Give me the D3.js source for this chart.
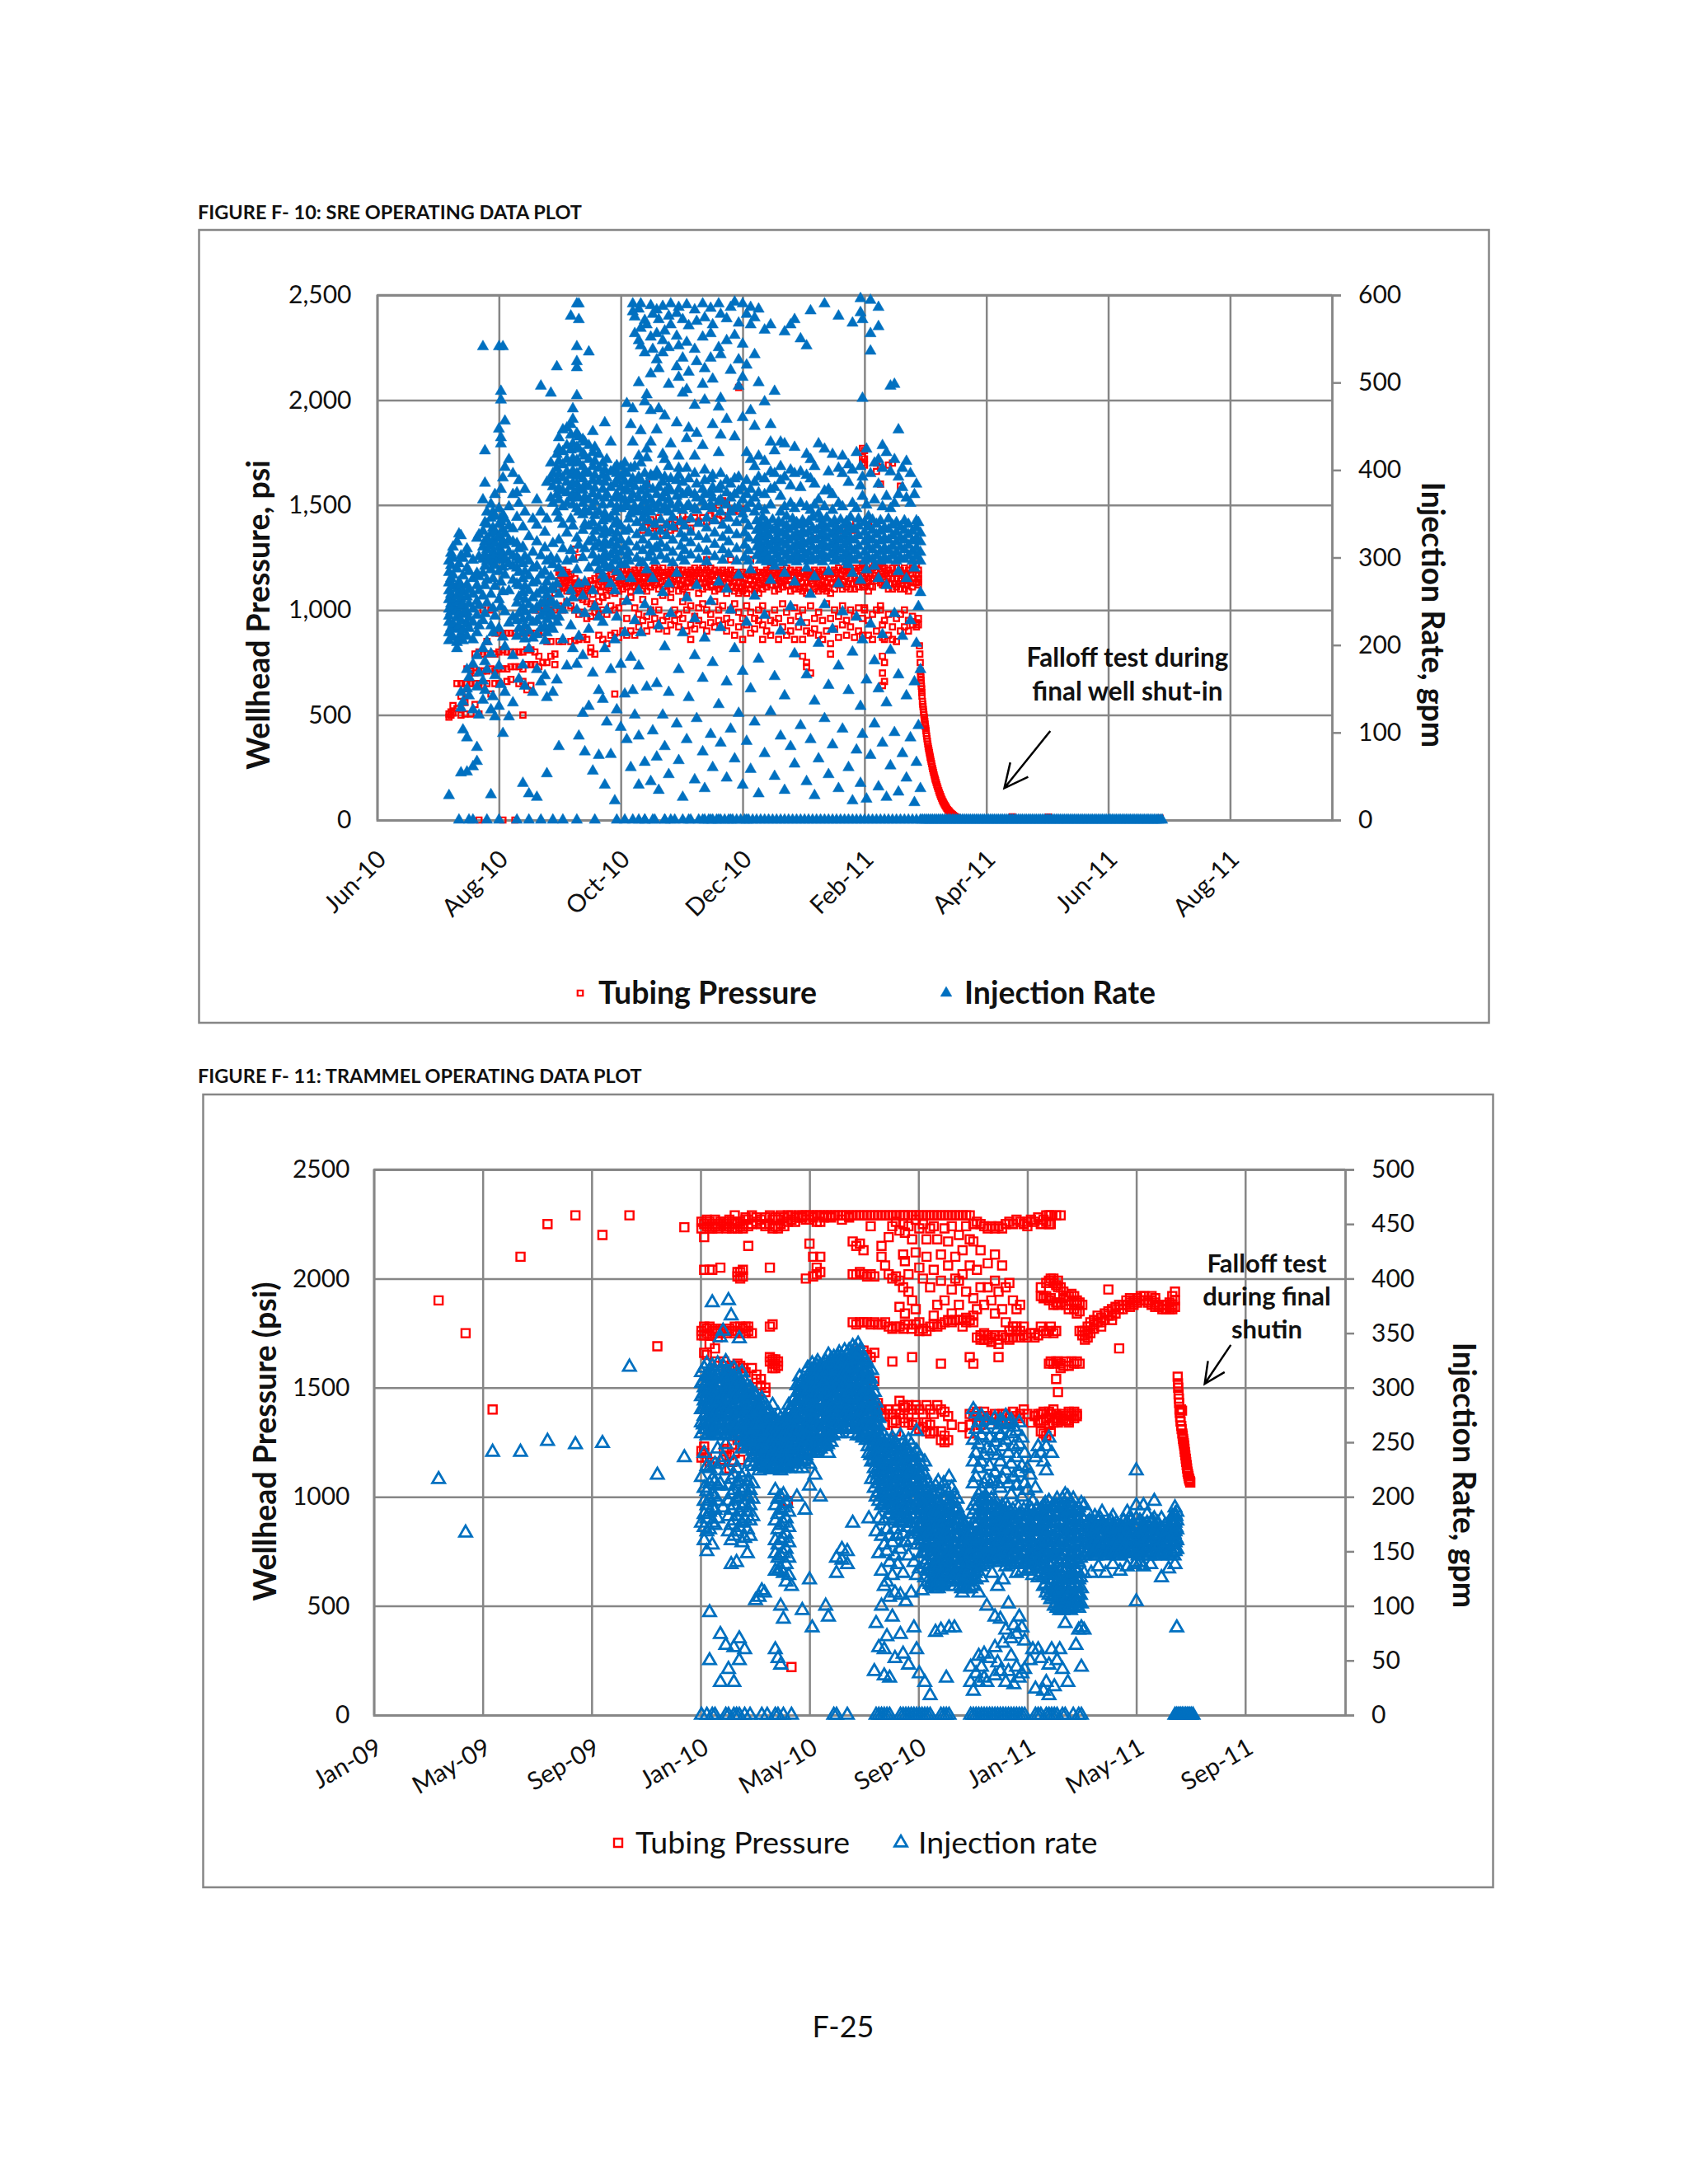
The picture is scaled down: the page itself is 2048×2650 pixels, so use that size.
<!DOCTYPE html>
<html><head><meta charset="utf-8">
<script src="https://cdn.jsdelivr.net/npm/d3@7"></script>
<style>body{margin:0;background:#fff}text{font-family:Lato,Carlito,sans-serif;fill:#111}</style>
</head><body><svg id="page" width="2048" height="2650"></svg>
<script>
// Rows are [day offset from first tick, readings...]
const sreTickLabels=["Jun-10","Aug-10","Oct-10","Dec-10","Feb-11","Apr-11","Jun-11","Aug-11"];
const sreTickDays=[0,61,122,183,244,305,366,427];
const srePsiTicks=[0,500,1000,1500,2000,2500];
const sreGpmTicks=[0,100,200,300,400,500,600];
const sreRate=[
[36,28,205,214,226,233,241,252,262,271,283,296],[37,219,238,247,258,276,291,305],[38,209,224,243,251,267,280,299,312],
[40,196,203,218,231,240,256,264,287,318],[41,0,208,222,236,249,259,272,293,327],[42,54,128,146,213,228,244,253,268,302,325],
[43,103,135,205,217,235,246,261,279,299],[45,94,55,150,172,210,224,238,255,269,288,304,310],[46,0,142,163,219,231,247,263,284],
[48,0,61,126,178,206,226,241,258,276,297],[50,83,67,152,188,214,234,250,268,282,322],[51,120,168,222,245,262,278,301,326],
[53,541,366,137,159,196,228,256,282,298,312,330],[54,422,385,148,181,236,268,290,303,318,340],[55,0,172,204,248,274,296,309,322,338,352],
[57,29,126,190,222,258,286,300,313,327,345,361],[58,141,214,242,276,294,306,319,334,352],[59,118,165,233,267,291,302,316,329,347,372],
[61,541,447,0,130,176,219,252,284,299,311,324,338,356],[62,490,480,437,430,155,244,272,297,308,322,341,378],[63,541,99,209,261,289,303,318,332,349,391],
[64,456,146,198,238,280,298,314,327,344,403],[66,412,118,225,262,293,306,320,336,358],[68,396,134,188,232,274,290,302,318,333,372],
[70,374,0,210,228,248,270,288,300,316,346],[71,161,219,236,255,268,283,297,310,362,388],[73,42,177,214,229,243,260,276,293,312,335],
[74,153,207,222,238,252,267,284,301,352,378],[76,0,30,196,216,231,246,262,279,296,324],[78,146,208,226,240,254,271,288,306,344],
[80,26,172,212,228,243,258,273,290,318,337,366],[82,496,0,158,219,233,247,262,280,302,352],[84,165,205,221,237,250,265,284,311,329],
[85,53,140,214,229,242,257,272,296,344,386],[87,488,222,236,250,263,278,300,368,390,408],[88,0,146,218,233,248,266,292,316,362,381,396],
[90,518,160,226,245,270,298,352,372,388,402,418],[91,84,232,258,288,320,345,366,379,395,410,424,437],[93,0,206,240,282,310,338,358,376,391,406,421,446],
[95,176,248,296,328,362,374,386,398,412,428,448],[97,576,222,262,308,344,368,381,394,408,423,440,452],[98,470,196,254,298,336,360,372,385,399,413,430,458],
[100,590,541,524,517,485,0,178,240,286,322,356,371,384,396,411,426,442],[101,590,572,96,210,270,314,352,368,379,393,408,424,438],
[103,122,188,256,300,331,349,362,377,390,404,419,435],[104,78,236,272,310,338,354,369,383,398,416,432],[106,535,130,218,288,318,336,352,366,381,396,412,428],
[108,56,168,262,303,322,340,358,373,388,404,420,444],[109,0,244,294,312,330,348,364,379,394,410,426],[111,74,148,232,286,298,316,334,352,370,387,402,418],
[113,138,226,280,296,310,326,342,360,378,394,408],[114,454,40,196,276,292,304,318,333,350,368,386,400],[115,112,240,288,300,314,328,344,372,391,412],
[117,432,75,172,270,290,303,316,330,346,361,380,398],[119,22,206,262,296,308,322,338,352,368,384,402],[120,0,126,232,284,300,314,328,342,358,372,388,396,405],
[122,106,178,278,292,306,320,336,356,368,380,392,404],[124,0,144,214,292,312,330,358,366,376,387,398,408],
[125,476,92,250,302,360,378,396],[127,452,60,186,276,350,366,384,402],[128,590,581,470,432,0,148,354,372,390],[129,575,556,120,228,358,381,404],
[131,584,548,500,40,96,176,262,352,368,392,416],[132,590,562,542,445,214,294,358,376,388,408],[134,571,534,478,0,66,246,350,364,380,396],[135,566,486,424,152,286,356,372,384,414],
[137,588,552,510,468,44,238,306,352,366,394,432],[138,578,538,0,102,276,360,378,392],[140,583,556,526,446,72,156,312,356,372,398],[141,572,516,470,34,222,362,380,394],
[143,587,548,534,418,120,260,354,368,386],[144,559,462,0,84,198,358,374,392,412],[146,576,540,498,52,146,270,352,366,380,404],[147,590,566,430,0,236,360,376,390],
[150,579,553,518,454,110,282,356,370,388],[151,586,542,506,402,68,172,362,378,394,416],[153,572,528,488,26,214,354,372,386],[155,589,546,492,436,92,254,358,374,402],
[156,565,512,448,0,140,360,376,390],[159,583,538,474,416,46,188,230,356,372,396],[160,570,524,442,116,268,354,368,384],[163,590,552,498,428,0,78,162,364,378],
[164,574,516,480,36,208,358,372,388,400],[167,585,556,528,0,98,250,360,374,390],[168,566,504,452,60,180,356,368,380,394],[171,590,540,472,420,0,132,272,364,378],
[172,578,532,482,440,88,220,352,366,382,396],[175,573,548,458,48,158,264,360,374,388],[177,586,514,0,104,240,352,368,384],[179,592,554,438,70,196,356,372,390],
[181,568,526,496,122,280,358,376,392],[183,590,544,506,460,40,170,350,366,380],[185,578,520,0,90,226,356,372,388,420],[187,586,566,468,58,150,286,362,378,412],
[189,574,532,450,112,256,352,368,386,404],[191,584,500,30,184,358,374,392,416],[194,560,478,76,234,354,372,390,410],[197,566,452,124,274,360,378,398,432],
[199,490,50,164,290,380,396,422],[202,432,96,216,352,370,388,404],[204,558,34,142,282,358,392,430],[207,566,84,244,362,382,400],[209,572,64,190,272,356,396,426],
[212,550,108,226,362,380,398],[215,542,44,166,288,358,394,418],[217,582,92,258,354,390,412],[219,28,136,278,360,384,404],[221,70,202,350,366,430],
[224,590,116,246,358,376,424],[226,52,154,284,378,398],[228,86,218,354,372,418],[231,576,36,176,270,362,402],[233,104,238,358,396,416],[236,60,148,292,386,406],
[238,568,22,192,282,362,400],[240,80,232,356,420],[242,596,580,42,130,274,382,404],[243,572,482,98,206,370,392],[245,24,160,286,360,424],[247,594,556,536,74,224,396],
[249,110,182,290,366,408],[251,586,564,38,150,276,384,412],[253,88,212,358,402,428],[255,26,134,268,370,420],[257,496,62,194,356,398],[259,498,100,236,362,412],
[261,32,166,284,372,392,446],[263,76,210,380,402],[265,48,142,276,368,410],[267,94,228,362,396],[269,20,158,288,372],[270,66,202,384],[271,108,244,340],[272,36,172,260]];
const sreRateBand=[
[126,296,306,318,332,344],[130,299,312,326,340],[133,294,308,320,334,345],[136,300,314,328,342],[139,296,310,324,338],[142,302,316,330,343],[145,298,311,325,337],[148,294,306,320,335,346],
[152,300,313,327,341],[154,296,308,322,336],[157,303,317,329,344],[161,298,310,324,339],[165,295,307,321,334,345],[169,301,315,328,342],[173,297,309,323,337],[176,304,318,331,345],
[180,296,310,326,340],[184,300,314,328,343],[186,296,308,322,336],[190,302,312,320,331,342],[192,297,307,316,327,338],[193,301,311,323,334,346],[195,295,305,318,329,340],[196,300,313,325,336],
[198,296,308,318,331,343],[200,303,312,322,334],[201,298,310,320,329,341],[203,294,306,317,328,339],[205,302,314,325,336,347],[206,297,308,320,332],[208,300,311,323,335,344],[210,295,305,316,328,340],
[211,301,313,324,337],[213,298,309,319,330,342],[214,303,315,327,338],[216,296,306,318,329,341],[218,300,312,322,334,346],[220,297,308,320,331],[222,302,313,325,336,344],[223,295,305,317,328,339],
[225,299,311,322,333,345],[227,303,314,326,338],[229,296,307,318,330,342],[230,300,312,324,335],[232,298,309,320,331,343],[234,302,314,325,337],[235,295,306,318,329,341],[237,300,311,322,334,346],
[239,297,308,320,332],[241,302,313,325,336,344],[244,296,306,318,329,340],[246,300,312,323,335,347],[248,298,309,320,331,343],[250,302,314,326,338],[252,296,307,319,330,342],[254,300,311,322,334],
[256,297,308,320,332,344],[258,302,313,325,337],[260,296,306,318,329,340],[262,300,312,323,335],[264,298,309,320,331,342],[266,302,314,326,338],[268,296,307,319,330],[270,301,311,322,334,342],[272,296,306,318,328]];
const sreRateZeroDays=[131,134,139,144,149,153,157,161,164,166,168,170,172,174,176,178,180,182,184,186,188,190,192,194,196,198,200,202,204,206,208,210,212,214,216,218,220,222,224,226,228,230,232,234,236,238,240,242,244,246,248,250,252,254,256,258,260,262,264,266,268,270,272,273,274,275,276,277,278,279,280,281,282,283,284,285,286,287,288,289,290,291,292,293,294,295,296,297,298,299,300,301,302,303,304,305,306,307,308,309,310,311,312,313,314,315,316,317,318,319,320,321,322,323,324,325,326,327,328,329,330,331,332,333,334,335,336,337,338,339,340,341,342,343,344,345,346,347,348,349,350,351,352,353,354,355,356,357,358,359,360,361,362,363,364,365,366,367,368,369,370,371,372,373,374,375,376,377,378,379,380,381,382,383,384,385,386,387,388,389,390,391,392,393];
const srePressure=[
[36,490,505],[37,500,515],[38,510,545],[40,650,530],[42,500,650,590],[44,650,560,505],[45,720,650,600],[47,650,710,505],[49,700,650,790,550],[51,0,710,800,650,505],
[53,790,710,640,1000],[55,790,710,650,850],[57,600,790,720,1000],[59,710,890,790,650],[61,890,800,720,650],[63,890,810,720,0],[65,890,800,720,660],[67,890,800,730,670],
[69,890,800,730,0],[71,890,800,730,650],[73,890,800,720,660,500],[75,900,810,740,620],[77,890,810,740,640],[79,1000,890,800,740],[81,1000,890,780,730],
[83,1020,890,750],[85,1000,850,750],[87,1040,1000,780,850],[89,1080,1000,790,740],[91,1180,1140,1100,1020,850],[93,1190,1150,1110,1000,850],[95,1180,1140,1090,1040],
[97,1170,1130,1090,1020,850],[99,1150,1120,1080,1000,855,1290],[101,1130,1090,1060,980,860,1250],[103,1120,1080,1050,990,870],[105,1130,1090,1040,960,860],[107,1140,1100,1030,970,820,800],
[109,1150,1100,1020,990,790],[111,1160,1120,1040,980,880],[113,1150,1110,1060,1000,860],[115,1160,1120,1070,980,840],[117,1170,1130,1090,1020,880],[119,1180,1130,1080,1000,600,890],
[121,1180,1140,1090,1010,870],[123,1190,1140,1100,1040,900],[125,1190,1150,1110,960,880],[127,1180,1130,1090,1060,900],[129,1190,1150,1110,1010,880],[131,1200,1160,1120,980,920],
[133,1190,1150,1100,1050,950,1380,1420],[135,1180,1130,1090,970,900,1600,1420],[137,1190,1150,1110,1000,930,1430,1390],[139,1200,1160,1120,1040,960,1400],[141,1190,1150,1100,1000,910,1440,1380],
[143,1200,1160,1110,1070,950,1390,1360],[145,1180,1140,1090,970,900,1410],[147,1190,1150,1100,1060,930,1410,1380],[149,1200,1160,1120,1000,950,1430,1390],[151,1190,1150,1090,980,920,1400],
[153,1190,1140,1100,1040,960,1420,1450],[155,1180,1130,1070,1000,900,1430],[157,1190,1150,1110,1020,930,860,1390],[159,1200,1160,1120,970,910,1440],[161,1190,1150,1080,1010,950,1420],
[163,1200,1150,1100,1030,930,1440],[165,1190,1150,1110,1000,900,1420,1240],[167,1200,1160,1120,980,940,1450],[169,1190,1140,1090,1040,920,1460],[171,1180,1140,1100,1000,950,1500,1430],
[173,1190,1150,1100,1020,930,1520,1450],[175,1180,1130,1080,960,900,1510],[177,1190,1150,1110,1000,940,1470,1240],[179,1180,1140,1090,1030,880,1480],[181,1170,1130,1080,990,920,2060,1470],
[183,1180,1130,1090,960,860,1480],[185,1170,1120,1080,1020,930],[187,1180,1140,1100,990,890,1240],[189,1190,1140,1090,960,910],[191,1180,1130,1080,1000,950],
[193,1180,1140,1100,1020,930,860],[195,1190,1150,1110,980,900],[197,1200,1160,1120,950,880],[199,1190,1150,1090,1000,940],[201,1180,1140,1100,960,860],
[203,1190,1150,1110,1030,920],[205,1200,1160,1120,990,880],[207,1190,1140,1090,950,900,1260],[209,1180,1140,1100,1010,860],[211,1190,1150,1100,970,920],
[213,1180,1130,1090,1000,860,780],[215,1170,1130,1080,940,900,750,730],[217,1180,1140,1080,1020,890,700],[219,1190,1150,1100,960,910,1340],[221,1180,1130,1090,990,880],
[223,1190,1140,1100,950,860],[225,1180,1130,1090,1030,900],[227,1170,1130,1080,960,840,790],[229,1190,1150,1100,1000,910],[231,1200,1150,1120,970,870],
[233,1190,1140,1100,1020,930,1380],[235,1200,1160,1110,950,880],[237,1190,1150,1100,1000,920,1420],[239,1200,1150,1100,970,870,1380],[241,1200,1160,1110,1010,900],
[243,1220,1160,1120,960,880,1770,1730,1700],[244,1200,1150,1110,1010,1000,1760,1720,1690],[246,1190,1140,1090,950,880,1400],[248,1200,1150,1110,980,860],[250,1240,1190,1140,1000,900,1700,1660],
[252,1220,1180,1130,1020,1000,1680,1600],[253,1210,1170,1120,930,870,780,700,640],[254,1200,1160,1120,950,860,750,660],[256,1190,1150,1100,980,880,1690],[258,1200,1150,1100,920,860,1700],
[260,1200,1150,1110,960,850],[262,1190,1140,1100,980,900,1590],[264,1200,1150,1100,1000,920],[266,1190,1140,1090,950,900],[268,1200,1150,1110,970,930],[270,1220,1170,1130,940,920],[271,1190,1150,1120,960,930]];
const srePressureCore=[
[92,1165,1125,1175],[94,1170,1130,1105],[96,1160,1120],[100,1100,1130],[104,1105,1070],[108,1120,1075],[112,1135,1090],[116,1140,1105],[120,1160,1115],[122,1170,1125],[124,1170,1125],[126,1170,1130],[128,1165,1115],[130,1175,1135],
[132,1175,1130],[134,1160,1115],[136,1170,1130],[138,1180,1140],[140,1175,1130],[142,1180,1135],[144,1165,1115],[146,1170,1125],[148,1180,1135],[150,1175,1120],[152,1170,1120],[154,1165,1110],[156,1170,1130],[158,1180,1140],[160,1175,1120],[162,1180,1130],[164,1175,1130],[166,1180,1140],[168,1170,1110],[170,1165,1120],[172,1175,1125],
[174,1160,1105],[176,1170,1130],[178,1165,1115],[180,1155,1105],[182,1160,1110],[184,1150,1100],[186,1165,1120],[188,1170,1120],[190,1160,1105],[192,1165,1120],[194,1175,1130],[196,1180,1140],[198,1175,1120],[200,1165,1120],[202,1175,1130],[204,1180,1140],[206,1170,1115],[208,1165,1120],[210,1175,1125],[212,1160,1110],[214,1155,1105],[216,1165,1110],[218,1175,1125],[220,1160,1110],[222,1170,1120],[224,1160,1110],[226,1155,1105],[228,1175,1125],[230,1180,1135],[232,1170,1120],[234,1185,1135],[236,1175,1125],[238,1180,1125],[240,1185,1135],[242,1190,1140],[245,1175,1130],[247,1175,1115],[249,1220,1165],[251,1205,1160],[255,1175,1135],[257,1175,1125],[259,1175,1125],[261,1175,1125],[263,1175,1125],[265,1170,1120],[267,1175,1130],[269,1195,1150],[271,1170,1135]];
const sreFalloffDays=[271.5,271.7,271.9,272,272.1,272.2,272.3,272.4,272.5,272.6,272.7,272.8,273,273.15,273.3,273.45,273.6,273.75,273.9,274.05,274.2,274.35,274.5,274.65,274.8,274.95,275.1,275.3,275.5,275.7,275.9,276.1,276.3,276.5,276.7,276.9,277.1,277.35,277.6,277.85,278.1,278.35,278.6,278.85,279.1,279.35,279.6,279.9,280.2,280.5,280.8,281.15,281.5,281.85,282.2,282.55,282.9,283.25,283.6,284,284.4,284.8,285.2,285.6,286.1,286.5,287,287.5,288,288.5,289,289.5,290,290.5,291,291.5,292,318,336,392];
const sreFalloffPsi=[830,790,750,710,695,680,665,650,637,625,607,590,565,552,540,527,515,502,490,480,470,457,445,435,425,412,400,387,375,362,350,340,330,320,310,300,290,279,268,256,245,235,225,215,205,196,188,178,168,159,150,140,130,121,112,104,96,89,82,75,68,62,56,50,45,40,35,30,26,22,18,15,12,9,7,5,3,15,14,8];

const tramTickLabels=["Jan-09","May-09","Sep-09","Jan-10","May-10","Sep-10","Jan-11","May-11","Sep-11"];
const tramTickDays=[0,121,242,363,484,605,726,847,968];
const tramPsiTicks=[0,500,1000,1500,2000,2500];
const tramGpmTicks=[0,50,100,150,200,250,300,350,400,450,500];
const tramRate=[
[72,216],[102,167],[132,241],[163,241],[193,251],[224,248],[254,249],[284,319],[315,220],[345,236],
[364,0,176,218,258,268,280,292,304,314],[367,240,160,172,184,196,208,262,274,288,300,318],[370,0,150,168,180,192,205,228,256,270,282,296,310,322],
[373,94,50,170,186,198,212,226,260,276,290,302,316],[376,378,0,156,176,190,202,216,262,272,286,298,310,320],[379,0,174,188,200,214,230,258,268,282,294,308,316],
[382,180,196,210,224,244,256,270,284,296,310,322],[385,74,30,212,232,258,270,280,292,304,316,346],[388,190,236,262,274,286,298,310,320,352],
[391,0,64,224,248,262,276,290,302,314,324],[394,380,0,42,168,182,196,210,260,274,288,300,312],[397,138,160,174,188,202,216,258,270,284,298,310,366],
[400,62,30,0,164,178,192,206,220,232,262,276,290,304,318],[403,0,140,168,182,198,212,226,258,272,286,298,312],[406,70,50,0,172,186,200,214,256,270,284,296,308,345],
[409,158,176,190,204,218,244,258,272,286,300,314],[412,60,0,162,180,194,208,222,250,264,278,292,306],[415,148,170,186,200,214,246,260,274,288,302],
[418,0,164,178,192,206,232,248,262,276,290,300],[421,182,198,212,228,242,256,270,284,296],[424,105,232,246,258,270,282,294],
[428,108,224,236,248,260,272,284],[431,0,114,230,242,254,266,278,290],[434,112,226,238,250,262,274,286],[437,0,228,240,252,264,276],
[440,230,242,254,266,278],[443,225,236,248,260,272,284],[446,60,0,132,148,160,178,192,206,228,240,252,264],[449,0,52,132,144,156,170,184,198,226,238,250,262,276],
[452,100,46,134,146,160,174,188,200,224,236,248,260,272],[455,0,88,130,148,162,176,190,202,226,240,252,266],[458,122,138,152,166,180,194,228,240,254,268],
[461,128,144,158,172,186,226,238,250,262,276,284],[464,0,118,232,244,256,268,280],[467,230,242,254,266,278,290],[470,200,226,238,250,262,274,288,302],
[473,232,244,256,268,282,296,310],[476,96,226,238,252,266,280,294,306],[479,188,234,246,258,272,286,298],[482,240,252,264,276,290,304,318],[484,124,210,230,242,256,270,284,296,308],
[487,80,246,258,270,284,298,310,322],[490,220,240,252,266,280,294,306,316],[493,248,260,274,288,302,314,324],[496,200,244,256,270,284,298,310,320],
[499,252,264,278,292,306,318],[502,100,246,258,272,286,300,312,324],[505,90,240,254,268,282,296,308,320,330],[508,250,262,276,290,304,316,326],[511,0,262,274,288,302,314,328],
[514,0,130,144,258,270,284,298,310,322],[517,258,272,286,300,312,324,332],[520,152,142,262,276,290,304,316,328],[523,268,280,294,308,320,334],[526,0,138,150,264,278,292,306,318,330],
[529,274,288,302,316,328],[532,176,258,270,284,298,312,326,338],[535,268,282,296,310,324,336],[538,262,276,290,304,318,330,340],[541,256,270,284,298,312,326],
[544,260,274,288,302,316,328],[547,252,266,280,294,308,322],[550,180,240,254,268,282,296,310],[553,216,232,246,260,274,288,302,316],[556,40,208,226,240,254,268,282,296],
[558,0,84,168,200,216,232,246,260,274,286],[561,0,62,148,180,196,212,228,244,258,272],[564,0,100,132,164,192,208,224,238,254],[567,0,60,36,118,156,178,194,210,226,240,256],
[570,0,72,122,150,170,190,206,222,236,252],[573,0,34,108,140,164,184,200,216,232,248],[576,90,128,158,178,196,212,228,244,254],[579,52,112,146,170,188,204,220,236,250],
[582,138,164,182,198,214,230,246],[585,0,74,110,152,176,192,208,224,240,256],[588,0,56,130,166,186,202,218,234,250],[591,0,104,158,180,196,212,228,244],
[594,0,46,146,172,190,206,222,238,252],[597,0,112,160,184,200,216,232,248],[600,0,80,140,170,190,206,222,238],[603,0,60,128,156,176,194,210,226,242,260],
[606,0,38,134,160,172,188,204,220,236],[609,0,114,148,164,180,196,212,228],[612,0,30,126,138,156,172,188,204,220,232],[615,0,122,134,150,166,182,198,214],
[618,0,18,120,132,146,160,176,192,208],[621,118,130,142,156,170,186,202],[624,76,116,128,140,152,166,180,196,210],[627,116,126,138,150,164,178,194,214],
[630,0,78,120,132,144,156,170,186,204],[633,0,118,130,142,154,168,182,198,212],[636,0,34,122,134,146,160,176,192,206],[639,0,80,124,136,150,164,180,196,218],
[642,122,134,148,162,178,194,208],[645,80,118,130,144,158,172,188,202],[648,124,136,150,164,180,190,198],[651,118,128,142,156,170,184],[654,112,122,134,148,162,176],
[657,116,126,138,152,166,174],[660,122,132,144,158,170],[663,0,30,44,116,128,140,154,168],[666,0,22,118,134,148,162,176,192,212,232,252,280],[669,0,38,124,138,152,166,180,196,218,240,262,276],
[672,0,30,54,112,140,154,168,184,202,226,248,268],[675,0,44,126,144,158,172,188,206,232,256,274],[678,0,34,56,146,160,174,190,212,238,262],[681,0,30,100,148,162,176,192,216,244,270],
[684,0,52,146,160,174,188,206,228,254],[687,0,130,150,164,178,192,214,242,266],[690,0,36,62,90,148,162,176,190,222,250,272],[693,0,48,118,146,160,174,188,212,238,262],
[696,0,40,88,140,154,168,182,208,232,256,270],[699,0,66,124,144,158,172,186,216,246,268],[702,0,30,78,136,150,164,178,194,224,252,274],[705,0,40,102,142,156,170,184,212,240,266],
[708,0,54,70,138,152,166,180,202,230,258,270],[711,0,28,82,140,154,168,182,218,246,264],[714,0,44,74,130,146,160,174,210,236,260],[717,0,34,90,142,156,170,184,222,248,268],
[720,0,38,80,132,148,162,176,200,228,254],[723,0,42,68,140,154,168,182,212,240],[726,132,144,158,172,186,206,226],[729,50,134,148,162,176,190,220],[732,60,128,140,154,168,182,196],
[735,0,24,138,150,164,178,208,236],[738,0,60,126,142,156,170,184,246],[741,0,52,130,146,160,174,188,240],[744,22,118,134,150,164,178,192,232],
[747,0,30,112,128,144,158,172,186,224,246],[750,0,18,46,110,124,138,152,168,182,196,254],[753,0,60,114,130,146,162,176,190,240],[756,0,26,100,116,132,148,164,178,192],
[759,0,50,98,108,122,136,152,168,184,198],[762,60,96,106,118,132,146,160,176,190],[765,0,42,96,108,120,134,150,166,182,198],[768,0,84,98,110,124,140,156,172,188,202],
[771,30,100,112,126,142,158,174,190,200],[774,96,106,118,132,146,162,178,194],[777,0,98,110,124,138,154,170,186,198],[780,64,100,112,126,142,158,174,188],
[783,0,78,98,110,124,140,156,172,190],[786,0,44,80,102,116,150,166,182,194],[789,78,130,146,162,178,192],[793,150,160,168,176,186],[797,130,148,158,166,174],
[801,146,156,164,172,182],[805,136,150,160,170,178],[809,148,156,166,174,186],[813,130,146,154,162,172],[817,150,158,168,176],[821,138,148,156,166,174,182],
[825,148,158,168,176],[829,132,146,154,164,172],[833,150,160,170,178],[837,136,148,158,166,176,186],[841,150,160,168,178],[845,138,148,158,166,174],
[847,224,192,104,140,150,160,170,180],[851,140,150,158,168,178],[855,136,146,156,166,174,192],[859,148,158,166,176,184],[863,138,150,158,168,176],[867,146,156,164,172,180,196],
[871,148,158,168,176],[875,126,146,154,162,170,180],[879,150,158,166,174],[883,134,146,156,166,172],[887,148,156,164,174,182],[890,138,150,158,168,176,184,190],[892,80,152,160,170,178,186]];
const tramRateCore=[
[366,266,280,294,306],[369,262,276,290,304],[372,268,284,298,312],[375,264,278,292,306],[378,260,274,288,302],[381,266,278,290,304],[384,262,276,288,300],[387,268,280,294,308],[390,256,270,284,296,308],[393,266,280,294,306],[396,264,276,290,304],[399,268,282,296,310],[402,264,278,292,304],[405,262,276,290,302],[408,252,266,280,292,306],[411,256,270,284,298],[414,252,266,280,294],[417,254,268,282,296],
[420,236,250,262,276,290],[423,238,252,264,276,288],[426,228,242,254,266,278],[429,230,242,254,266,280],[432,236,248,260,272,284],[435,232,244,256,268,280],[438,234,246,258,270],[441,236,248,260,272],[444,230,242,254,266],[447,234,246,258,270],[450,232,244,256,268],[453,230,242,254,266],[456,232,246,258,272],[459,234,246,258,270],[462,232,244,256,270,280],[465,238,250,262,274],[468,236,248,260,272,284],[471,232,244,256,268,282,296],[474,238,250,262,276,290,304],[477,232,246,260,274,288,300],[480,238,252,266,280,294,306],[483,246,258,270,284,298,312],
[486,240,252,264,278,292,304,316],[489,246,258,272,286,300,312],[492,242,254,268,282,296,308,320],[495,250,264,278,292,304,316],[498,246,258,272,286,300,314],[501,252,266,280,294,306,318],[504,248,260,274,288,302,316],[507,256,270,284,298,310,322],[510,256,268,282,296,308,322],[513,264,278,292,304,316],[516,264,278,294,306,318,328],[519,268,282,296,310,322],[522,262,274,288,302,314,326],[525,270,286,300,312,324],[528,268,282,296,310,322,334],[531,264,278,292,306,320,332],[534,262,276,290,304,318,330],[537,256,270,284,298,312,326],[540,264,278,292,306,320,334],[543,254,266,280,294,308,322],[546,258,272,286,300,314,326],[549,246,260,274,288,302,316],[552,238,252,266,280,294,308],[555,234,248,262,276,290],[557,222,238,252,266,280],
[560,204,220,236,252,266],[563,200,216,232,248],[566,202,218,234,248],[569,198,214,230,246],[572,194,210,226,242],[575,188,204,220,236,250],[578,180,196,212,228,244],[581,190,206,222,238],[584,186,202,218,234],[587,178,194,210,226,242],[590,188,204,220,236],[593,182,198,214,230],[596,176,192,208,224,240],[599,180,196,212,228],[602,168,184,200,216,232],[605,166,180,196,212,228],[608,156,172,188,204,220],[611,148,164,180,196,212],[614,142,158,174,190,206],[617,138,154,168,184,200],[620,124,136,150,164,178,194],[623,122,134,146,160,174,188,204],[626,122,132,144,158,172,186],[629,126,138,150,164,178,192],[632,124,136,148,162,176,190],[635,128,140,152,166,182,198],[638,130,142,156,172,188],[641,128,140,154,170,186],[644,124,136,150,166,180,196],[647,130,144,156,170,186],[650,124,136,150,164,178],[653,116,128,142,156,170],[656,122,132,146,160],[659,116,128,140,152,164],[662,122,134,148,162],[665,126,140,154,168,184],[668,130,146,160,174,188],[671,132,148,162,176,192],[674,136,150,164,180,196],[677,138,152,168,182,198],[680,142,156,170,184,200],[683,140,154,168,182,196],[686,144,156,170,184,198],[689,142,154,168,182],[692,152,166,180,194],[695,146,160,174,188],[698,150,164,178,192],[701,142,156,170,184],[704,148,162,176,190],[707,144,158,172,186],[710,146,160,174,188],[713,138,152,166,180],[716,148,162,176,190],[719,140,154,168,182],[722,146,160,174,188],[725,138,150,164,178],[728,140,154,168,182],[731,134,146,160,174,188],[734,144,156,170,184],[737,134,148,162,176,190],[740,138,152,168,182],[743,126,142,156,170,184],[746,120,136,150,166,180,194],[749,116,130,146,160,176,190],[752,106,120,136,152,170,184],[755,108,124,140,156,172,186],[758,102,116,130,146,160,176,192],[761,100,112,126,140,154,168,184],[764,102,114,128,142,158,174,190],[767,104,116,130,146,162,178,194],[770,106,118,134,150,166,182],[773,100,112,126,140,156,172,188],[776,104,116,130,146,162,178],[779,106,120,134,150,166,182],[782,104,118,132,148,164,180],[785,110,126,144,160,176],
[791,148,156,164,172],[795,152,162,170,178],[799,150,158,168,176],[803,146,154,162,172],[807,152,162,172,180],[811,150,158,166,174],[815,148,156,164,172],[819,152,162,170,178],[823,150,160,170],[827,146,156,164,174],[831,152,162,172],[835,148,156,166,174],[839,152,162,170,180],[843,150,160,168],[849,146,154,164,174],[853,150,160,170],[857,152,162,172],[861,146,156,164,174],[865,150,160,170,178],[869,152,162,172],[873,148,156,166],[877,150,160,170],[881,148,158,168],[885,152,162,170],[889,146,156,166,178],[891,152,162,172,182]];
const tramRateZeroDays=[890,892,894,896,898,900,902,904,906,908,910];
const tramPressure=[
[72,1900],[102,1750],[132,1400],[163,2100],[193,2250],[224,2290],[254,2200],[284,2290],[315,1690],[345,2235],
[364,2230,2260,1760,1740,1210,1180],[367,2250,2190,2040,1780,1740,1660,1230,1200],[370,2240,2270,1770,1750,1650,1180],[373,2260,2230,2040,1780,1740,1700,1140],
[376,2250,2230,2040,1760,1160],[379,2240,2270,1770,1750,1680,1620],[382,2250,2230,1760,1730,1600],[385,2260,2240,2050,1770,1750],[389,2240,2260,1760,1620,1210,1170],
[392,2250,2230,1750,1600,1220],[395,2240,2270,1770,1580,1190,1130],[398,2230,2260,1760,1590,1240,1160],[401,2250,2290,1780,1750,1600,1200],[404,2230,2260,2030,2010,1760,1610,1260],
[407,2260,2240,2030,2000,1780,1750,1600,1170],[410,2250,2230,2040,2010,1770,1590,1240],[413,2270,2280,1780,1750,1570],[416,2240,2270,2150,1760,1780],[420,2250,2290,1750,1590,1210],
[425,2260,2280,1560,1540],[430,2250,2270,1540,1510],[435,2240,2280,1500,1480],[440,2250,2290,2050,1780,1640,1620,1280],[443,2230,2270,1790,1630,1610,1590],[446,2240,2280,1630,1610,1590],
[449,2230,2270,1620,1600],[452,2250,2290,1280],[456,2240,2280,1280],[460,2260,2290,980],[464,2270,2290,220],[468,2260,2280,1300,1250],[472,2280,2290,1290],[476,2280,2290],[480,2290,2270,2000],
[484,2290,2270,2160],[488,2290,2280,2100,2010],[492,2290,2260,2020,2050],[496,2290,2260,2100,2030],[500,2290,2280],[504,2290],[508,2290,2280],[512,2290],[516,2290],[520,2290,2270],
[524,2290],[528,2290,2280],[532,2290,2170,2020,1800],[536,2290,2150,2020,1790],[540,2290,2160,2030,1800,1670],[544,2290,2130,2020,1800,1670,1380],[548,2290,2010,1800,1650,1370],
[552,2290,2240,2020,1790,1640],[556,2290,2010,1800,1660,1530,1430],[560,2290,1790,1430,1390],[564,2290,2150,2100,1790,1400,1370],[568,2290,2060,1800,1380,1330],[572,2290,2190,2020,1780,1400],
[576,2290,2240,2000,1770,1620,1380,1340],[580,2290,2260,2010,1780,1400,1350,1300],[584,2290,2220,1990,1870,1780,1440,1380],[588,2290,2250,2110,1960,1770,1420,1360],[590,2290,2210,2080,1840,1790,1410,1340],
[594,2290,2240,2020,1940,1790,1420,1380,1340],[598,2290,2180,1900,1770,1640,1400,1330],[602,2290,2270,2120,1860,1790,1420,1340],[606,2290,2230,2050,1800,1760,1400,1310],[610,2290,2250,2000,1770,1380,1320],
[614,2290,2180,2100,1760,1420,1340,1300],[618,2290,2230,1960,1780,1400,1330,1290],[622,2290,2240,2040,1790,1830,1380,1300],[626,2290,2180,1880,1780,1420],[630,2290,2110,1990,1790,1610,1400,1300,1260],
[634,2290,2230,1900,1800,1390,1280,1250],[638,2290,2170,2060,1810,1370,1260],[642,2290,2240,1950,1800,1840,1330],[646,2290,2100,2000,1810],[650,2290,2200,1880,1810,1990],[654,2290,2130,2020,1810,1780,1320],
[658,2290,2240,1940,1820,1800],[662,2290,2180,2060,1810,1640,1380,1330,1290],[666,2250,2170,1910,1830,1800,1610,1370],[670,2260,2040,1860,1730,1340,1390],[674,2250,2130,1960,1740,1720,1370,1330],
[678,2240,1880,1750,1720,1390,1350],[682,2230,2070,1960,1740,1720,1370],[686,2240,1900,1730,1710,1360],[690,2230,2110,1990,1840,1740,1380],[694,2240,1940,1720,1700,1640,1340],[698,2230,2060,1860,1740,1380,1350],
[702,2250,1960,1800,1730,1380],[706,2260,1980,1760,1720,1360],[710,2250,1900,1780,1730,1390],[714,2270,1860,1780,1760,1730,1370],[718,2260,1880,1760,1730,1380,1360],[722,2250,1780,1740,1400],
[726,2240,2260,1730,1380],[730,2270,1750,1340],[734,2260,1750,1730,1370],[738,2280,1740,1380,1350],[741,2250,1960,1920,1780,1380,1340,1300],[744,2270,1920,1910,1760,1390,1350,1290],
[747,2290,2260,1980,1920,1750,1360,1280],[750,2250,2290,1990,1900,1760,1610,1390,1330],[752,2290,2250,2000,1910,1780,1620,1380,1300],[755,2000,1980,1880,1750,1610,1340,1400],[758,2290,1970,1890,1760,1620,1540,1350,1380],
[760,1990,1960,1880,1620,1480,1360,1340],[763,2290,1960,1890,1610,1590,1370,1350],[766,1940,1910,1600,1380,1360],[769,1920,1880,1620,1350,1370],[772,1920,1900,1860,1600,1390,1350,1340],[775,1930,1880,1620,1380,1370],
[778,1920,1890,1860,1610,1390,1360],[781,1900,1880,1840,1620,1380,1370],[784,1890,1850,1760,1610],[787,1880,1760,1740],[790,1760,1740,1720],[793,1780,1750,1730],[796,1800,1780,1750],[800,1810,1790,1770],
[804,1830,1800],[808,1820,1800,1780],[812,1840,1810],[816,1850,1830,1950],[820,1860,1830,1810],[824,1870,1840],[828,1880,1860,1680],[832,1880,1860],[836,1900,1880],[840,1910,1890,1870],[844,1900,1880],
[848,1910,1890],[852,1920,1900],[856,1920,1900],[860,1900,1890],[864,1920,1900,1880],[868,1910,1890,1870],[872,1880,1870],[876,1880,1860],[880,1880,1860],[884,1890,1870,1860],[887,1920,1880,1860],[890,1940,1900,1870]];
const tramFalloffDays=[893,893.3,893.6,894,894.3,894.6,895,895.4,895.8,896.2,896.6,897,897.4,897.8,898.2,898.6,899,899.4,899.8,900.2,900.6,901,901.5,902,902.5,903,903.5,904,904.5,905,905.5,906,906.5,907];
const tramFalloffPsi=[1550,1520,1500,1470,1450,1430,1400,1385,1365,1345,1400,1325,1310,1395,1290,1280,1265,1255,1245,1235,1220,1205,1190,1175,1160,1145,1130,1115,1105,1095,1085,1078,1072,1066];

const gridGrey="#868686", red="#ff0000", blue="#0070c0";
const flat=rows=>rows.flatMap(([d,...vs])=>vs.map(v=>({d,v})));
const svg=d3.select("#page");
svg.append("rect").attr("width",2048).attr("height",2650).attr("fill","#fff");

function drawChart(c){
  const g=svg.append("g");
  g.append("rect").attr("x",c.box[0]).attr("y",c.box[1]).attr("width",c.box[2]-c.box[0]).attr("height",c.box[3]-c.box[1])
   .attr("fill","#fff").attr("stroke",gridGrey).attr("stroke-width",2.5);
  g.append("text").attr("x",240).attr("y",c.titleY).attr("font-size",c.titleSize).attr("font-weight",700).text(c.title);
  const x=d3.scaleLinear().domain([0,c.maxDay]).range([c.l,c.r]);
  const yP=d3.scaleLinear().domain([0,2500]).range([c.b,c.t]);
  const yR=d3.scaleLinear().domain(c.rateDomain).range([c.b,c.t]);
  const style=a=>{a.select(".domain").attr("stroke",gridGrey).attr("stroke-width",2.5);
    a.selectAll(".tick line").attr("stroke",gridGrey).attr("stroke-width",2.5);
    a.selectAll("text").style("font-size",c.tickSize+"px").style("font-family","Lato,Carlito,sans-serif").attr("fill","#111");};
  const ax=g.append("g").attr("transform",`translate(0,${c.b})`)
    .call(d3.axisBottom(x).tickValues(c.tickDays).tickSize(-(c.b-c.t)).tickFormat((d,i)=>c.tickLabels[i]));
  style(ax);
  ax.selectAll("text").attr("text-anchor","end").attr("transform",`translate(${c.xLabelDx},${c.xLabelDy}) rotate(${c.xAngle})`).attr("x",0).attr("y",0).attr("dy","0.35em");
  const al=g.append("g").attr("transform",`translate(${c.l},0)`)
    .call(d3.axisLeft(yP).tickValues(c.psiTicks).tickSize(-(c.r-c.l)).tickPadding(c.pad).tickFormat(c.psiFormat));
  style(al);
  const ar=g.append("g").attr("transform",`translate(${c.r},0)`)
    .call(d3.axisRight(yR).tickValues(c.gpmTicks).tickSize(11).tickPadding(21).tickFormat(d3.format("d")));
  style(ar);
  g.append("line").attr("x1",c.l).attr("x2",c.r).attr("y1",c.t).attr("y2",c.t).attr("stroke",gridGrey).attr("stroke-width",2.5);

  const sq=d3.symbol().type(d3.symbolSquare).size(c.sq)();
  const tri=d3.symbol().type(d3.symbolTriangle).size(c.tri)();
  const triAttrs=s=>s.attr("d",tri).attr("fill",c.triFill?blue:"none").attr("stroke",blue).attr("stroke-width",c.triStroke);
  const sqAttrs=s=>s.attr("d",sq).attr("fill","none").attr("stroke",red).attr("stroke-width",c.sqStroke);
  g.append("g").selectAll("path").data(c.pressure).join("path").call(sqAttrs)
    .attr("transform",p=>`translate(${x(p.d)},${yP(p.v)})`);
  g.append("g").selectAll("path").data(c.rate).join("path").call(triAttrs)
    .attr("transform",p=>`translate(${x(p.d)},${yR(p.v)})`);

  g.append("path").call(sqAttrs).attr("transform",`translate(${c.leg[0]},${c.legY})`);
  g.append("path").call(triAttrs).attr("transform",`translate(${c.leg[2]},${c.legY})`);
  [[c.leg[1],c.legText[0]],[c.leg[3],c.legText[1]]].forEach(([lx,t])=>g.append("text").attr("x",lx).attr("y",c.legY+13)
    .attr("font-size",c.legSize).attr("font-weight",c.legWeight).text(t));
  g.append("text").attr("transform",`translate(${c.ltx},${c.lty}) rotate(-90)`).attr("text-anchor","middle").attr("font-size",c.axisSize).attr("font-weight",700).text(c.leftTitle);
  g.append("text").attr("transform",`translate(${c.rtx},${c.rty}) rotate(90)`).attr("text-anchor","middle").attr("font-size",c.axisSize).attr("font-weight",700).text(c.rightTitle);
  c.note.forEach((t,i)=>g.append("text").attr("x",c.noteX).attr("y",c.noteY+i*c.noteStep).attr("text-anchor","middle").attr("font-size",c.noteSize).attr("font-weight",700).text(t));
  const [d0,p0,d1,p1]=c.arrow, X0=x(d0),Y0=yP(p0),X1=x(d1),Y1=yP(p1);
  const ang=Math.atan2(Y1-Y0,X1-X0), h=c.arrowHead;
  g.append("path").attr("fill","none").attr("stroke","#000").attr("stroke-width",2.5)
    .attr("d",`M${X0},${Y0}L${X1},${Y1}M${X1-h*Math.cos(ang-0.45)},${Y1-h*Math.sin(ang-0.45)}L${X1},${Y1}L${X1-h*Math.cos(ang+0.45)},${Y1-h*Math.sin(ang+0.45)}`);
}

drawChart({title:"FIGURE F- 10: SRE OPERATING DATA PLOT",titleSize:23.5,titleY:266,box:[241.5,279,1806.5,1241],l:457.5,r:1616,t:358,b:995,maxDay:478,
  rateDomain:[0,600],tickDays:sreTickDays,tickLabels:sreTickLabels,psiTicks:srePsiTicks,gpmTicks:sreGpmTicks,psiFormat:d3.format(","),pad:31,
  tickSize:30,xAngle:-45,xLabelDx:5,xLabelDy:42,sq:42,sqStroke:2.2,tri:82,triFill:true,triStroke:0.5,
  pressure:flat(srePressure).concat(flat(srePressureCore)).concat(sreFalloffDays.map((d,i)=>({d,v:sreFalloffPsi[i]}))),
  rate:flat(sreRate).concat(flat(sreRateBand)).concat(sreRateZeroDays.map(d=>({d,v:0}))),
  leg:[704,726,1148,1170],legY:1205,legText:["Tubing Pressure","Injection Rate"],legSize:37.5,legWeight:700,
  axisSize:37.5,leftTitle:"Wellhead Pressure, psi",rightTitle:"Injection Rate, gpm",ltx:327,lty:746,rtx:1725,rty:746,
  note:["Falloff test during","final well shut-in"],noteX:1368,noteY:809,noteStep:41,noteSize:31.5,arrow:[337,424,314,152],arrowHead:32});

drawChart({title:"FIGURE F- 11: TRAMMEL OPERATING DATA PLOT",titleSize:23.5,titleY:1314,box:[246.5,1328,1811.5,2290],l:453.5,r:1632,t:1419,b:2081,maxDay:1079,
  rateDomain:[0,500],tickDays:tramTickDays,tickLabels:tramTickLabels,psiTicks:tramPsiTicks,gpmTicks:tramGpmTicks,psiFormat:d3.format("d"),pad:29,
  tickSize:30,xAngle:-30,xLabelDx:6,xLabelDy:36,sq:100,sqStroke:2.4,tri:100,triFill:false,triStroke:2.8,
  pressure:flat(tramPressure).concat(tramFalloffDays.map((d,i)=>({d,v:tramFalloffPsi[i]}))),
  rate:flat(tramRate).concat(flat(tramRateCore)).concat(tramRateZeroDays.map(d=>({d,v:0}))),
  leg:[750,771,1093,1114],legY:2236,legText:["Tubing Pressure","Injection rate"],legSize:37.5,legWeight:400,
  axisSize:37.5,leftTitle:"Wellhead Pressure (psi)",rightTitle:"Injection Rate, gpm",ltx:335,lty:1749,rtx:1763,rty:1790,
  note:["Falloff test","during final","shutin"],noteX:1537,noteY:1544,noteStep:40,noteSize:31,arrow:[952,1696,923,1518],arrowHead:28});

svg.append("text").attr("x",1023).attr("y",2472).attr("text-anchor","middle").attr("font-size",36).text("F-25");
</script></body></html>
